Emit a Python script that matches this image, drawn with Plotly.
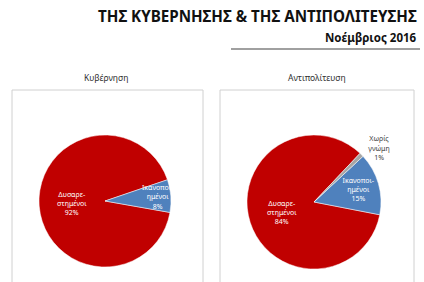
import plotly.graph_objects as go

# Data
labels = ["Δυσαρεστημένοι", "Ικανοποιημένοι", "Χωρίς γνώμη"]
label_text = ["Δυσαρε-<br>στημένοι", "Ικανοποι-<br>ημένοι", "Χωρίς<br>γνώμη"]
gov_values = [92, 8]
opp_values = [84, 15, 1]
panel_titles = ["Κυβέρνηση", "Αντιπολίτευση"]
title_line2 = "ΤΗΣ ΚΥΒΕΡΝΗΣΗΣ & ΤΗΣ ΑΝΤΙΠΟΛΙΤΕΥΣΗΣ"
title_line3 = "Νοέμβριος 2016"

colors = ["#C00000", "#4F81BD", "#A5A5A5"]
W, H = 424, 282
FONT = "Noto Sans"

fig = go.Figure()

fig.add_trace(go.Pie(
    labels=labels[:2], values=gov_values, text=label_text[:2],
    texttemplate="%{text}<br>%{percent:.0%}",
    textinfo="text", sort=False, direction="counterclockwise", rotation=100,
    marker=dict(colors=colors[:2], line=dict(color="white", width=0.5)),
    textposition="inside", insidetextorientation="horizontal",
    textfont=dict(family=FONT, size=7, color="white"),
    domain=dict(x=[39/W, 171/W], y=[15/H, 147/H]),
    showlegend=False, hoverinfo="label+percent",
))

fig.add_trace(go.Pie(
    labels=labels, values=opp_values, text=label_text,
    texttemplate="%{text}<br>%{percent:.0%}",
    textinfo="text", sort=False, direction="counterclockwise", rotation=101,
    marker=dict(colors=colors, line=dict(color="white", width=0.5)),
    textposition=["inside", "inside", "outside"], insidetextorientation="horizontal",
    textfont=dict(family=FONT, size=7, color=["white", "white", "#404040"]),
    outsidetextfont=dict(family=FONT, size=7, color="#404040"),
    domain=dict(x=[247/W, 381/W], y=[13/H, 147/H]),
    showlegend=False, hoverinfo="label+percent",
))

# Panel boxes
for x0, x1 in [(12, 203), (220, 414)]:
    fig.add_shape(type="rect", xref="paper", yref="paper",
                  x0=x0/W, x1=x1/W, y0=-0.05, y1=(H-90)/H,
                  line=dict(color="#D0D0D0", width=1), fillcolor="rgba(0,0,0,0)")

# Panel titles
for xc, t in zip([106, 317], panel_titles):
    fig.add_annotation(x=xc/W, y=(H-77)/H, xref="paper", yref="paper",
                       text=t, showarrow=False, xanchor="center", yanchor="middle",
                       font=dict(family=FONT, size=8.5, color="#303030"))

# Main title
fig.add_annotation(x=419/W, y=(H-16)/H, xref="paper", yref="paper",
                   text="<b>" + title_line2 + "</b>", showarrow=False,
                   xanchor="right", yanchor="middle",
                   font=dict(family=FONT, size=15.2, color="#111111"))
fig.add_annotation(x=419/W, y=(H-37)/H, xref="paper", yref="paper",
                   text="<b>" + title_line3 + "</b>", showarrow=False,
                   xanchor="right", yanchor="middle",
                   font=dict(family=FONT, size=11.5, color="#111111"))
fig.add_shape(type="line", xref="paper", yref="paper",
              x0=231/W, x1=420/W, y0=(H-49)/H, y1=(H-49)/H,
              line=dict(color="#808080", width=1.5))

fig.update_layout(
    width=W, height=H, margin=dict(l=0, r=0, t=0, b=0),
    paper_bgcolor="white", plot_bgcolor="white",
    uniformtext=dict(minsize=7, mode="show"),
    font=dict(family=FONT),
)

fig.write_html("out.html")
